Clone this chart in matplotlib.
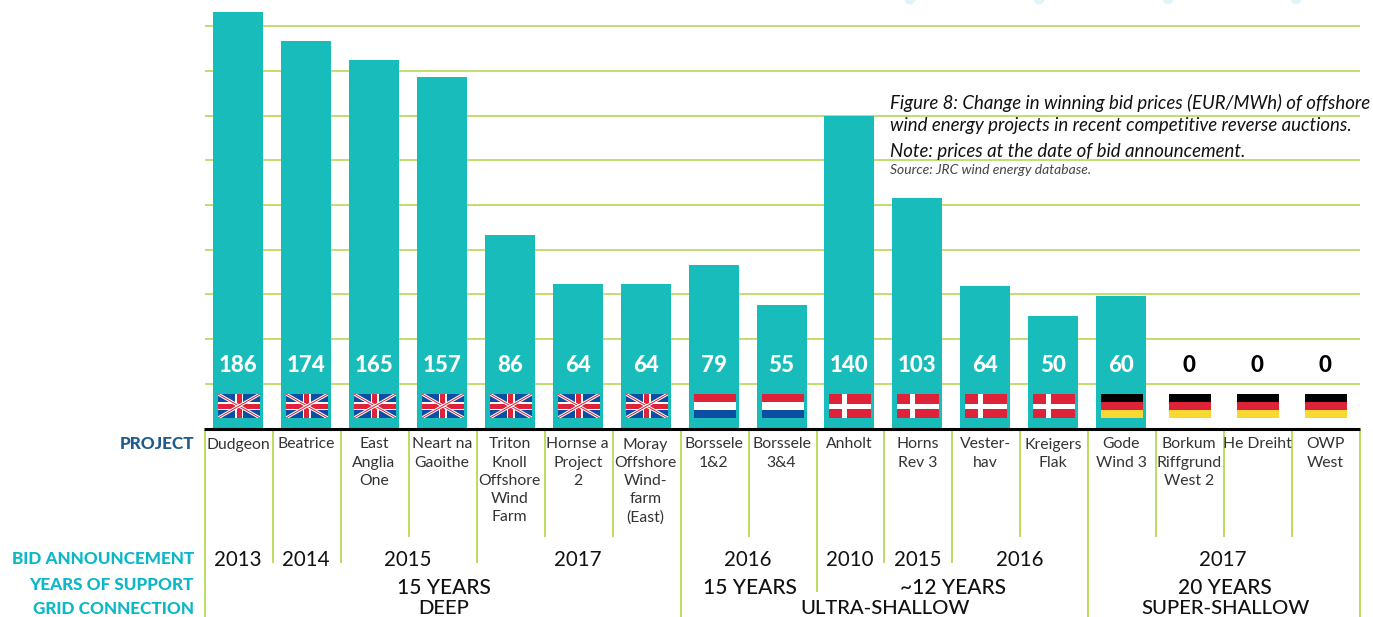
import matplotlib
matplotlib.use("Agg")
import matplotlib.pyplot as plt
from matplotlib.patches import Rectangle, Circle
from matplotlib.transforms import blended_transform_factory

projects = ["Dudgeon", "Beatrice", "East\nAnglia\nOne", "Neart na\nGaoithe",
            "Triton\nKnoll\nOffshore\nWind\nFarm", "Hornse a\nProject\n2",
            "Moray\nOffshore\nWind-\nfarm\n(East)", "Borssele\n1&2", "Borssele\n3&4",
            "Anholt", "Horns\nRev 3", "Vester-\nhav", "Kreigers\nFlak", "Gode\nWind 3",
            "Borkum\nRiffgrund\nWest 2", "He Dreiht", "OWP\nWest"]
# printed values and drawn bar heights differ in the source (e.g. Borssele 1&2)
prices = [186, 174, 165, 157, 86, 64, 64, 79, 55, 140, 103, 64, 50, 60, 0, 0, 0]
bar_heights = [186.3, 173.3, 165.2, 157.2, 86.4, 64.5, 64.5, 73, 55.1, 139.7, 103.4, 63.6, 50.2, 59.1, 0, 0, 0]
flags = ["uk", "uk", "uk", "uk", "uk", "uk", "uk", "nl", "nl",
         "dk", "dk", "dk", "dk", "de", "de", "de", "de"]

# label, first project, last project
bid_years = [("2013", 0, 0), ("2014", 1, 1), ("2015", 2, 3), ("2017", 4, 6), ("2016", 7, 8),
             ("2010", 9, 9), ("2015", 10, 10), ("2016", 11, 12), ("2017", 13, 16)]
support_years = [("15 YEARS", 0, 6), ("15 YEARS", 7, 8), ("~12 YEARS", 9, 12), ("20 YEARS", 13, 16)]
grid_connection = [("DEEP", 0, 6), ("ULTRA-SHALLOW", 7, 12), ("SUPER-SHALLOW", 13, 16)]

row_labels = ["PROJECT", "BID ANNOUNCEMENT", "YEARS OF SUPPORT", "GRID CONNECTION"]
gridlines = [20, 40, 60, 80, 100, 120, 140, 160, 180]

caption = ["Figure 8: Change in winning bid prices (EUR/MWh) of offshore",
           "wind energy projects in recent competitive reverse auctions.",
           "Note: prices at the date of bid announcement."]
source = "Source: JRC wind energy database."

TEAL = "#18BCBB"
GREEN = "#AFD645"
W, H = 1373, 617
STEP = 67.94
BASE = 428.4

plt.rcParams["font.family"] = ["Lato", "DejaVu Sans"]
fig = plt.figure(figsize=(W / 100, H / 100), dpi=100)

# bars, baseline at y=428px
ax = fig.add_axes([205 / W, (H - BASE) / H, 1155 / W, BASE / H])
ax.bar(range(len(prices)), bar_heights, width=50 / STEP, color=TEAL, zorder=3)
ax.set_xlim(-33 / STEP, (1360 - 238) / STEP)
ax.set_ylim(0, BASE / 2.233)
ax.set_yticks(gridlines)
ax.set_xticks([])
ax.tick_params(left=False, labelleft=False)
ax.grid(axis="y", color=GREEN, lw=1.1, zorder=1)
for s in ax.spines.values():
    s.set_visible(False)

# overlay in pixel coords for the table below the chart
ov = fig.add_axes([0, 0, 1, 1])
ov.set_xlim(0, W)
ov.set_ylim(H, 0)
ov.axis("off")
ov.patch.set_alpha(0)
tr = blended_transform_factory(ax.transData, ov.transData)


def draw_flag(kind, cx):
    x0, y0, w, h = cx - 20, 394, 42, 24
    def rect(x, y, rw, rh, c):
        ov.add_patch(Rectangle((x, y), rw, rh, fc=c, ec="none", zorder=6))
    if kind == "nl" or kind == "de":
        cols = ["#DD2239", "#FFFFFF", "#0B4EA2"] if kind == "nl" else ["#000000", "#DD2239", "#F8D831"]
        for k, c in enumerate(cols):
            rect(x0, y0 + k * h / 3, w, h / 3, c)
    elif kind == "dk":
        rect(x0, y0, w, h, "#DD2239")
        rect(x0 + 13, y0, 5, h, "#FFFFFF")
        rect(x0, y0 + 9.5, w, 5, "#FFFFFF")
    else:
        rect(x0, y0, w, h, "#0B4EA2")
        clip = Rectangle((x0, y0), w, h, transform=ov.transData)
        for ys in [(y0, y0 + h), (y0 + h, y0)]:
            l1, = ov.plot([x0, x0 + w], ys, color="white", lw=2.2, zorder=7, solid_capstyle="butt")
            l2, = ov.plot([x0, x0 + w], ys, color="#DD2239", lw=0.7, zorder=7, solid_capstyle="butt")
            l1.set_clip_path(clip)
            l2.set_clip_path(clip)
        rect(x0 + 17, y0, 8, h, "#FFFFFF")
        rect(x0, y0 + 8, w, 8, "#FFFFFF")
        rect(x0 + 18.5, y0, 5, h, "#DD2239")
        rect(x0, y0 + 9.5, w, 5, "#DD2239")


for i, v in enumerate(prices):
    ov.text(i, 365, str(v), transform=tr, ha="center", va="center", fontsize=16,
            fontweight="black", color="white" if v > 0 else "black", zorder=8)
    draw_flag(flags[i], 238 + STEP * i)
    ov.text(i, 437.5, projects[i], transform=tr, ha="center", va="top", fontsize=11.3,
            color="#333333", linespacing=1.37, zorder=8)

# separators reach down to the row where their group ends
year_edges = {g[1] for g in bid_years}
support_edges = {g[1] for g in support_years}
grid_edges = {g[1] for g in grid_connection} | {len(prices)}
for i in range(len(prices) + 1):
    if i in grid_edges:
        end = 617
    elif i in support_edges:
        end = 592
    elif i in year_edges:
        end = 563
    else:
        end = 537
    ov.plot([i - 0.485, i - 0.485], [430, end], transform=tr, color=GREEN, lw=1.2, zorder=4,
            solid_capstyle="butt", clip_on=False)

ov.plot([-0.5, len(prices) - 0.49], [428.5, 428.5], transform=tr, color="black",
        lw=2.2, zorder=5, solid_capstyle="butt")

for lab, a, b in bid_years:
    ov.text((a + b) / 2, 560, lab, transform=tr, ha="center", va="center", fontsize=14.8,
            color="#111111", zorder=8)
for lab, a, b in support_years:
    ov.text((a + b) / 2 + 0.03, 587.5, lab, transform=tr, ha="center", va="center", fontsize=15,
            fontweight="medium", color="#111111", zorder=8)
for lab, a, b in grid_connection:
    ov.text((a + b) / 2 + 0.03, 608.5, lab, transform=tr, ha="center", va="center", fontsize=14.6,
            fontweight="medium", color="#111111", zorder=8)

for lab, y, c in zip(row_labels, [444, 559, 585, 609.5], ["#1F5C8B", "#0CB8C8", "#0CB8C8", "#0CB8C8"]):
    ov.text(194, y, lab, ha="right", va="center", fontsize=12.3, fontweight="black", color=c)

for line, y in zip(caption, [103, 126, 151]):
    ov.text(890, y, line, ha="left", va="center", fontsize=13.4, style="italic", color="#111111")
ov.text(890, 170, source, ha="left", va="center", fontsize=10, style="italic", color="#444444")

# faint decoration dots cut off by the top edge
for cx in [910, 1039, 1168, 1296]:
    ov.add_patch(Circle((cx, -1), 5.5, fc="#E2F4F7", ec="none"))

fig.savefig("out.png", dpi=100)
